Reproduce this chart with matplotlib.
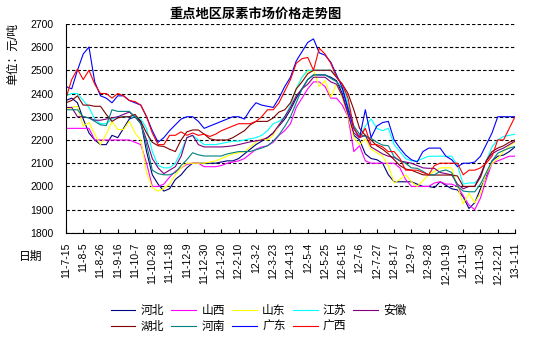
import matplotlib
matplotlib.use('Agg')
import matplotlib.pyplot as plt

plt.rcParams['font.family'] = ['Liberation Sans', 'Noto Sans CJK SC']

title = '重点地区尿素市场价格走势图'

# weekly, 11-7-15 .. 13-1-11, labels every 3 weeks
tick_labels = ['11-7-15', '11-8-5', '11-8-26', '11-9-16', '11-10-7', '11-10-28',
               '11-11-18', '11-12-9', '11-12-30', '12-1-20', '12-2-10', '12-3-2',
               '12-3-23', '12-4-13', '12-5-4', '12-5-25', '12-6-15', '12-7-6',
               '12-7-27', '12-8-17', '12-9-7', '12-9-28', '12-10-19', '12-11-9',
               '12-11-30', '12-12-21', '13-1-11']

hebei = [2370, 2380, 2360, 2290, 2230, 2200, 2180, 2180, 2220, 2210,
         2250, 2290, 2300, 2280, 2150, 2050, 2010, 1980, 1990, 2030,
         2050, 2080, 2100, 2100, 2100, 2100, 2100, 2105, 2110, 2110,
         2120, 2140, 2160, 2180, 2195, 2210, 2230, 2260, 2290, 2330,
         2380, 2420, 2460, 2480, 2480, 2480, 2470, 2455, 2400, 2310,
         2220, 2200, 2140, 2120, 2115, 2100, 2050, 2020, 2020, 2020,
         2020, 2010, 2000, 2000, 1995, 2020, 2005, 1990, 1985, 1955,
         1905, 1930, 1990, 2045, 2110, 2130, 2135, 2150, 2170]

shanxi = [2250, 2250, 2250, 2250, 2250, 2200, 2200, 2200, 2200, 2200,
          2200, 2200, 2190, 2180, 2100, 2000, 2000, 2010, 2040, 2065,
          2080, 2095, 2100, 2100, 2085, 2085, 2085, 2090, 2100, 2105,
          2110, 2120, 2140, 2160, 2170, 2175, 2190, 2220, 2240, 2270,
          2340, 2380, 2420, 2450, 2450, 2430, 2380, 2380, 2350, 2300,
          2150, 2175, 2110, 2100, 2100, 2100, 2100, 2100, 2080, 2030,
          2000, 2000, 2000, 2000, 2015, 2020, 2010, 2010, 2000, 1960,
          1920, 1900, 1950, 2030, 2100, 2110, 2120, 2130, 2130]

shandong = [2330, 2340, 2345, 2260, 2275, 2225, 2180, 2225, 2280, 2245,
            2245, 2280, 2230, 2200, 2060, 1995, 1980, 1990, 2010, 2050,
            2080, 2100, 2100, 2100, 2100, 2105, 2110, 2120, 2130, 2140,
            2145, 2150, 2170, 2190, 2205, 2200, 2220, 2265, 2300, 2340,
            2420, 2470, 2495, 2500, 2430, 2455, 2385, 2440, 2380, 2300,
            2210, 2180, 2205, 2160, 2145, 2130, 2090, 2015, 2030, 2050,
            2020, 2000, 2025, 2050, 2065, 2080, 2080, 2080, 2000, 1925,
            1970, 1930, 1970, 2055, 2100, 2120, 2150, 2175, 2190]

jiangsu = [2390, 2400, 2400, 2370, 2340, 2290, 2270, 2270, 2290, 2300,
           2300, 2300, 2300, 2290, 2250, 2150, 2090, 2080, 2080, 2100,
           2150, 2210, 2220, 2200, 2180, 2180, 2180, 2185, 2190, 2195,
           2195, 2200, 2205, 2210, 2220, 2240, 2270, 2280, 2300, 2350,
           2420, 2470, 2500, 2500, 2500, 2500, 2500, 2470, 2440, 2360,
           2250, 2210, 2260, 2290, 2250, 2240, 2250, 2180, 2150, 2120,
           2110, 2110, 2120, 2130, 2130, 2130, 2130, 2130, 2090, 2010,
           2015, 2015, 2040, 2110, 2170, 2200, 2215, 2220, 2225]

anhui = [2340, 2340, 2300, 2300, 2295, 2285, 2285, 2290, 2295, 2300,
         2310, 2320, 2300, 2270, 2200, 2120, 2080, 2055, 2070, 2085,
         2130, 2210, 2220, 2180, 2170, 2170, 2170, 2170, 2172, 2175,
         2180, 2186, 2192, 2196, 2200, 2210, 2230, 2265, 2300, 2340,
         2390, 2420, 2440, 2470, 2470, 2470, 2450, 2440, 2390, 2310,
         2230, 2210, 2220, 2170, 2155, 2140, 2130, 2125, 2110, 2105,
         2100, 2090, 2080, 2078, 2078, 2060, 2055, 2050, 2010, 1990,
         2000, 2000, 2050, 2110, 2140, 2155, 2165, 2180, 2195]

hubei = [2360, 2370, 2390, 2350, 2350, 2345, 2345, 2310, 2280, 2295,
         2300, 2300, 2310, 2280, 2230, 2190, 2175, 2172, 2160, 2150,
         2200, 2235, 2243, 2243, 2225, 2205, 2200, 2200, 2200, 2210,
         2225, 2240, 2265, 2280, 2280, 2280, 2295, 2320, 2330, 2360,
         2420, 2450, 2485, 2500, 2500, 2500, 2500, 2470, 2440, 2400,
         2330, 2250, 2220, 2200, 2175, 2160, 2140, 2115, 2090, 2075,
         2070, 2060, 2050, 2049, 2049, 2049, 2049, 2049, 2045, 2000,
         2000, 2000, 2040, 2110, 2150, 2165, 2175, 2190, 2200]

henan = [2330, 2330, 2330, 2300, 2295, 2280, 2265, 2262, 2330, 2323,
         2323, 2323, 2300, 2270, 2180, 2070, 2055, 2050, 2050, 2060,
         2090, 2115, 2145, 2136, 2131, 2131, 2131, 2131, 2140, 2145,
         2150, 2150, 2150, 2158, 2165, 2175, 2195, 2222, 2258, 2300,
         2360, 2420, 2460, 2480, 2480, 2480, 2465, 2451, 2420, 2340,
         2260, 2225, 2215, 2207, 2190, 2178, 2175, 2128, 2110, 2100,
         2080, 2078, 2065, 2050, 2050, 2065, 2071, 2060, 2000, 1980,
         1977, 1977, 2010, 2060, 2110, 2143, 2155, 2165, 2172]

guangdong = [2430, 2420, 2500, 2570, 2600, 2450, 2390, 2380, 2360, 2390,
             2390, 2370, 2360, 2350, 2300, 2240, 2190, 2210, 2240, 2265,
             2290, 2300, 2300, 2280, 2250, 2260, 2270, 2280, 2290, 2300,
             2300, 2290, 2330, 2360, 2350, 2345, 2340, 2380, 2430, 2470,
             2540, 2580, 2620, 2635, 2575, 2565, 2535, 2480, 2425, 2330,
             2250, 2210, 2330, 2210, 2260, 2275, 2280, 2200, 2165, 2135,
             2115, 2105, 2150, 2165, 2165, 2165, 2130, 2115, 2085, 2100,
             2100, 2105, 2130, 2180, 2230, 2300, 2300, 2300, 2300]

guangxi = [2380, 2460, 2505, 2460, 2500, 2440, 2400, 2400, 2380, 2400,
           2390, 2370, 2365, 2350, 2300, 2230, 2180, 2180, 2220, 2220,
           2235, 2220, 2230, 2220, 2225, 2215, 2225, 2240, 2250, 2260,
           2270, 2270, 2270, 2280, 2300, 2330, 2330, 2360, 2410, 2460,
           2530, 2550, 2555, 2500, 2595, 2570, 2530, 2470, 2440, 2380,
           2250, 2210, 2250, 2180, 2180, 2170, 2150, 2150, 2120, 2070,
           2070, 2070, 2060, 2050, 2090, 2100, 2100, 2100, 2100, 2050,
           2070, 2070, 2080, 2100, 2130, 2200, 2200, 2250, 2300]

names = ['河北', '山西', '山东', '江苏', '安徽', '湖北', '河南', '广东', '广西']
colors = ['#000080', '#FF00FF', '#FFFF00', '#00FFFF', '#800080',
          '#800000', '#008080', '#0000FF', '#FF0000']


def draw_chart():
    series = [hebei, shanxi, shandong, jiangsu, anhui, hubei, henan, guangdong, guangxi]

    fig = plt.figure(figsize=(5.45, 3.4), dpi=100)
    ax = fig.add_axes([0.121, 0.315, 0.824, 0.615])

    lines = []
    for name, vals, col in zip(names, series, colors):
        ln, = ax.plot(range(len(vals)), vals, color=col, linewidth=0.8, label=name)
        lines.append(ln)

    ax.set_xlim(0, 78)
    ax.set_ylim(1800, 2700)
    ax.set_yticks(range(1800, 2701, 100))
    ax.set_xticks(range(0, 79, 3))
    ax.set_xticklabels(tick_labels, rotation=90)
    ax.yaxis.grid(True, linestyle=(0, (3, 2)), color='black', linewidth=0.8)
    ax.set_axisbelow(True)
    for s in ['top', 'right']:
        ax.spines[s].set_visible(False)
    ax.spines['left'].set_linewidth(0.8)
    ax.spines['bottom'].set_linewidth(0.8)
    ax.tick_params(axis='y', length=0, labelsize=7.5, pad=9)
    ax.tick_params(axis='x', direction='in', length=3, width=0.8, labelsize=7.5, pad=7)

    fig.text(0.468, 0.956, title, ha='center', va='center', fontsize=9.5, fontweight='bold')
    fig.text(0.024, 0.84, '单位：元/吨', rotation=90, ha='center', va='center', fontsize=8.5)
    fig.text(0.035, 0.244, '日期', ha='left', va='center', fontsize=8.5)

    # excel fills the legend row by row, matplotlib column by column
    order = [0, 5, 1, 6, 2, 7, 3, 8, 4]
    fig.legend([lines[k] for k in order], [names[k] for k in order],
               ncol=5, loc='center', bbox_to_anchor=(0.475, 0.062), frameon=False,
               fontsize=8.5, handlelength=2.1, handletextpad=0.45,
               columnspacing=0.6, labelspacing=0.35, borderpad=0.1)

    fig.savefig('out.png', dpi=100)


if __name__ == "__main__":
    draw_chart()
